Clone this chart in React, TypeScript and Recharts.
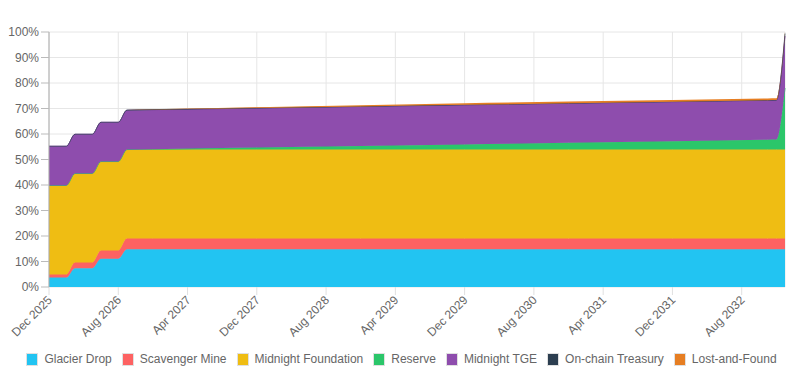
import { AreaChart, Area, XAxis, YAxis, CartesianGrid, Legend } from "recharts";

// month index from Dec 2025 (0) to Jan 2033 (85); only the months where the shape changes
const MONTHS = [0, 2, 3, 5, 6, 8, 9, 12, 24, 36, 48, 60, 72, 83, 84, 85];

const TICK_MONTHS = [0, 8, 16, 24, 32, 40, 48, 56, 64, 72, 80];
const TICK_LABELS = [
  "Dec 2025",
  "Aug 2026",
  "Apr 2027",
  "Dec 2027",
  "Aug 2028",
  "Apr 2029",
  "Dec 2029",
  "Aug 2030",
  "Apr 2031",
  "Dec 2031",
  "Aug 2032",
];

const Y_TICKS = [0, 10, 20, 30, 40, 50, 60, 70, 80, 90, 100];

// share of total supply, %
const GLACIER_DROP = [3.7, 3.7, 7.4, 7.4, 11.1, 11.1, 14.8, 14.8, 14.8, 14.8, 14.8, 14.8, 14.8, 14.8, 14.8, 14.8];
const SCAVENGER_MINE = [1.2, 1.2, 2.2, 2.2, 3.2, 3.2, 4.2, 4.2, 4.2, 4.2, 4.2, 4.2, 4.2, 4.2, 4.2, 4.2];
const MIDNIGHT_FOUNDATION = [34.9, 34.9, 34.9, 34.9, 34.9, 34.9, 34.9, 34.9, 34.9, 34.9, 34.9, 34.9, 34.9, 34.9, 34.9, 34.9];
const RESERVE = [0, 0, 0, 0, 0, 0, 0, 0.16, 0.78, 1.4, 2.03, 2.65, 3.28, 3.85, 3.9, 24.1];
const MIDNIGHT_TGE = [15.4, 15.4, 15.4, 15.4, 15.4, 15.4, 15.4, 15.4, 15.4, 15.4, 15.4, 15.4, 15.4, 15.4, 15.4, 20.4];
const ONCHAIN_TREASURY = [0, 0, 0, 0, 0, 0, 0.1, 0.1, 0.1, 0.1, 0.1, 0.1, 0.1, 0.1, 0.1, 1.0];
const LOST_AND_FOUND = [0, 0, 0, 0, 0, 0, 0, 0.1, 0.35, 0.5, 0.6, 0.65, 0.7, 0.7, 0.7, 0.6];

const SERIES = [
  { key: "glacier", name: "Glacier Drop", color: "#22c4f2", values: GLACIER_DROP },
  { key: "scavenger", name: "Scavenger Mine", color: "#fd6262", values: SCAVENGER_MINE },
  { key: "foundation", name: "Midnight Foundation", color: "#efbd13", values: MIDNIGHT_FOUNDATION },
  { key: "reserve", name: "Reserve", color: "#2bc66a", values: RESERVE },
  { key: "tge", name: "Midnight TGE", color: "#8e4dad", values: MIDNIGHT_TGE },
  { key: "treasury", name: "On-chain Treasury", color: "#2c3e50", values: ONCHAIN_TREASURY },
  { key: "lostFound", name: "Lost-and-Found", color: "#e67e22", values: LOST_AND_FOUND },
];

const data = MONTHS.map((m, i) => {
  const row: Record<string, number> = { m };
  for (const s of SERIES) row[s.key] = s.values[i];
  return row;
});

const FONT = "'Liberation Sans', Arial, Helvetica, sans-serif";

function XTick({ x, y, payload }: { x?: number; y?: number; payload?: { value: number } }) {
  const idx = TICK_MONTHS.indexOf(payload?.value ?? -1);
  const tx = (x ?? 0) + 1;
  const ty = (y ?? 0) + 1;
  return (
    <text
      x={tx}
      y={ty}
      transform={`rotate(-45 ${tx} ${ty})`}
      textAnchor="end"
      dominantBaseline="central"
      fontSize={12}
      fill="#666"
      fontFamily={FONT}
    >
      {TICK_LABELS[idx]}
    </text>
  );
}

function LegendContent() {
  return (
    <div
      style={{
        display: "flex",
        justifyContent: "center",
        alignItems: "center",
        height: 24,
        gap: 10,
        paddingLeft: 5,
        boxSizing: "border-box",
        fontFamily: FONT,
        fontSize: 12,
        color: "#666",
      }}
    >
      {SERIES.map((s) => (
        <div key={s.key} style={{ display: "flex", alignItems: "center" }}>
          <span
            style={{
              display: "inline-block",
              width: 12,
              height: 13,
              boxSizing: "border-box",
              background: s.color,
              border: "1.5px solid #e0e0e0",
              marginRight: 6,
            }}
          />
          {s.name}
        </div>
      ))}
    </div>
  );
}

export default function App() {
  return (
    <div style={{ width: 798, height: 384, background: "#fff" }}>
      <style>{`body{margin:0}`}</style>
      <AreaChart
        width={798}
        height={384}
        data={data}
        margin={{ top: 32, right: 13, left: 0, bottom: 0 }}
      >
        <CartesianGrid stroke="#e6e6e6" />
        <XAxis
          dataKey="m"
          type="number"
          domain={[0, 85]}
          ticks={TICK_MONTHS}
          interval={0}
          height={73}
          axisLine={false}
          tickLine={{ stroke: "#e0e0e0" }}
          tickSize={8}
          tick={<XTick />}
        />
        <YAxis
          type="number"
          domain={[0, 100]}
          ticks={Y_TICKS}
          interval={0}
          width={49}
          axisLine={{ stroke: "#aaa" }}
          tickLine={{ stroke: "#bbb" }}
          tickSize={8}
          tick={{ fontSize: 12, fill: "#666", fontFamily: FONT }}
          tickFormatter={(v: number) => `${v}%`}
        />
        <Legend
          content={<LegendContent />}
          wrapperStyle={{ left: 0, top: 347, width: 798 }}
        />
        {SERIES.map((s) => (
          <Area
            key={s.key}
            type="monotone"
            dataKey={s.key}
            name={s.name}
            stackId="supply"
            fill={s.color}
            fillOpacity={1}
            stroke={s.key === "lostFound" ? "none" : s.color}
            strokeOpacity={s.key === "treasury" ? 0.7 : 1}
            strokeWidth={1}
            dot={false}
            activeDot={false}
            isAnimationActive={false}
          />
        ))}
      </AreaChart>
    </div>
  );
}
